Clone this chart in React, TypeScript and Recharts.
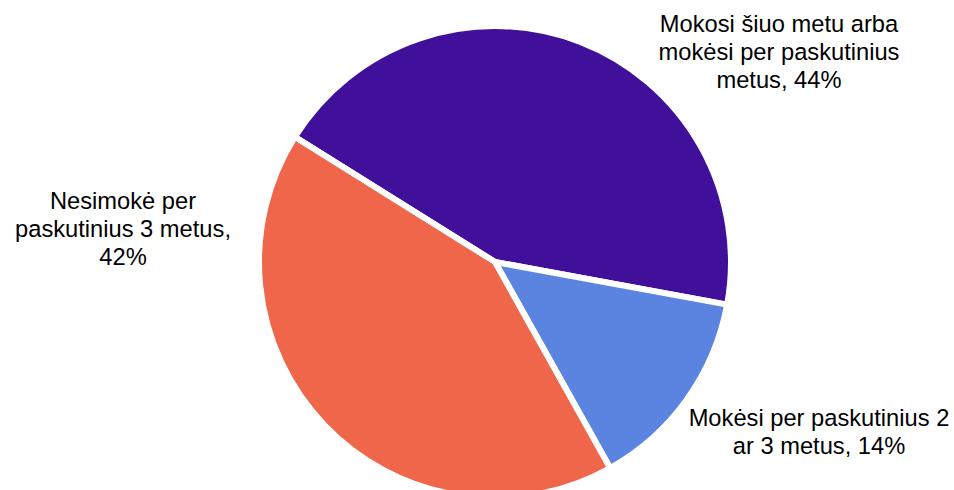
import React from 'react';
import { PieChart, Pie, Cell } from 'recharts';

const categories = [
  ['Mokosi šiuo metu arba', 'mokėsi per paskutinius', 'metus, 44%'],
  ['Mokėsi per paskutinius 2', 'ar 3 metus, 14%'],
  ['Nesimokė per', 'paskutinius 3 metus,', '42%'],
];
const shares = [44, 14, 42];
const colors = ['#40109a', '#5b84e0', '#f0664a'];

// label anchor (centre x, first baseline y) relative to pie centre
const labelPos = [
  { dx: 284, dy: -230 },
  { dx: 324, dy: 164 },
  { dx: -372, dy: -53 },
];

const data = shares.map((v, i) => ({ name: categories[i].join(' '), value: v }));

const renderLabel = (props: any) => {
  const { cx, cy, index } = props;
  const pos = labelPos[index];
  return (
    <text
      x={cx + pos.dx}
      y={cy + pos.dy}
      textAnchor="middle"
      fill="#000"
      fontSize={23.7}
      fontFamily="'Liberation Sans', Arial, sans-serif"
    >
      {categories[index].map((line, i) => (
        <tspan key={i} x={cx + pos.dx} dy={i === 0 ? 0 : 28}>
          {line}
        </tspan>
      ))}
    </text>
  );
};

const App: React.FC = () => {
  return (
    <div
      style={{
        position: 'fixed',
        left: 0,
        top: 0,
        width: 954,
        height: 490,
        background: '#fff',
      }}
    >
      <PieChart width={954} height={490}>
        <Pie
          data={data}
          dataKey="value"
          cx={490}
          cy={257}
          outerRadius={236}
          startAngle={148}
          endAngle={-212}
          stroke="#fff"
          strokeWidth={6}
          labelLine={false}
          label={renderLabel}
          isAnimationActive={false}
        >
          {data.map((_, i) => (
            <Cell key={i} fill={colors[i]} />
          ))}
        </Pie>
      </PieChart>
    </div>
  );
};

export default App;
